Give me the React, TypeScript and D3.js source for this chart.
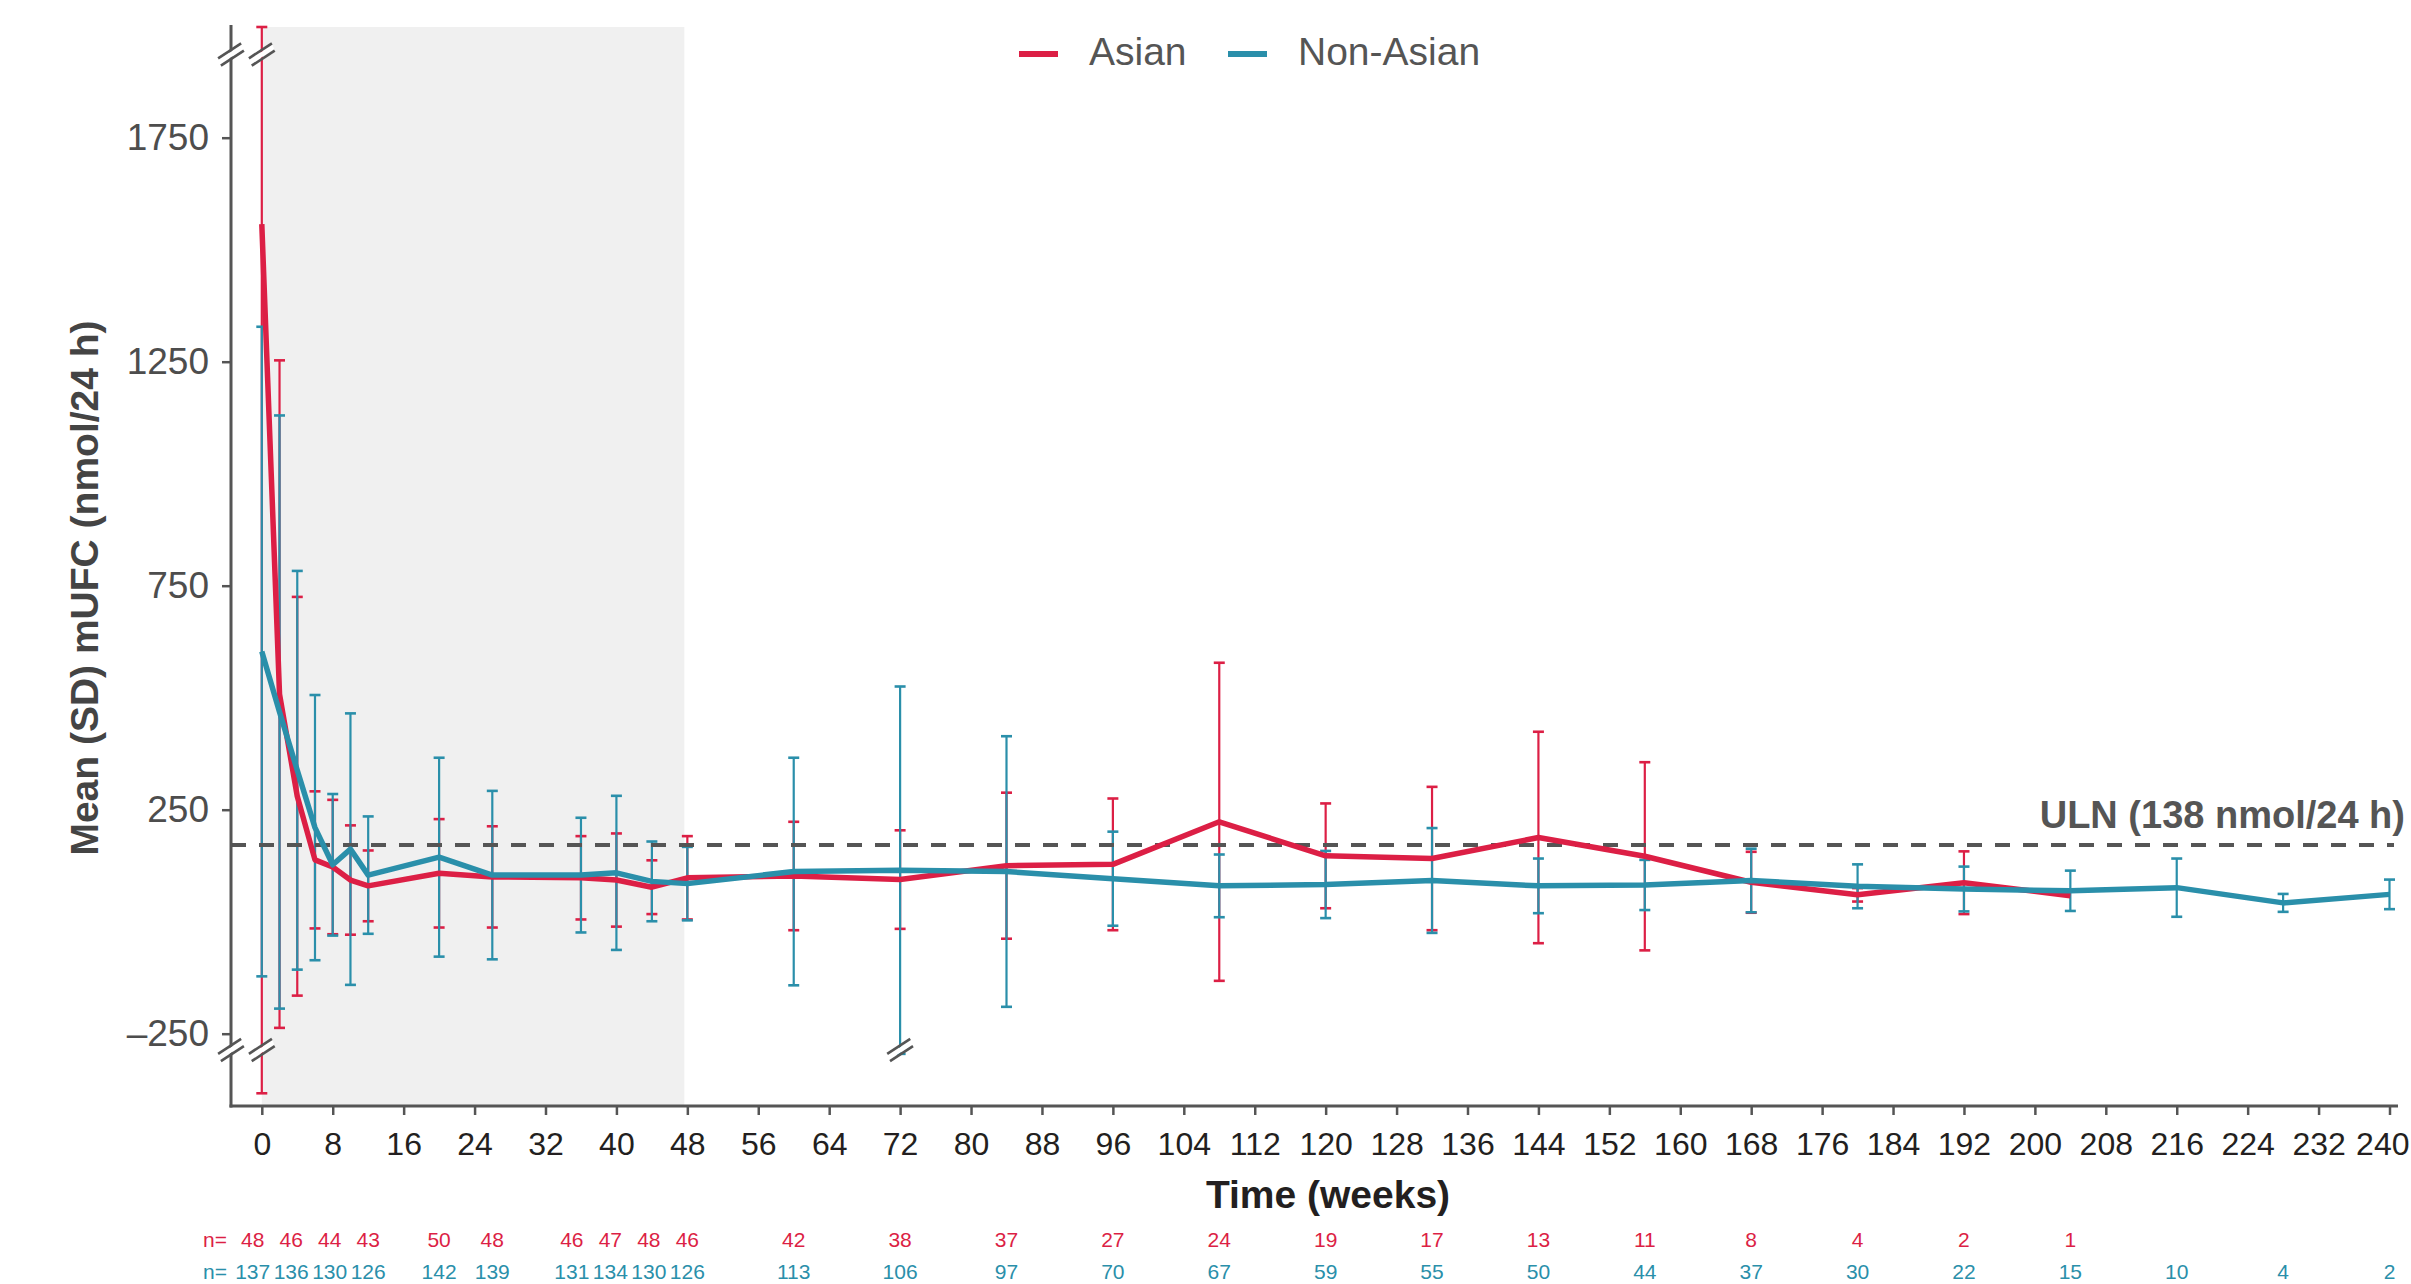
import React, { useRef, useEffect } from 'react';
import * as d3 from 'd3';

// visit weeks (x) for the mean (SD) points
const weeks = [0, 2, 4, 6, 8, 10, 12, 20, 26, 36, 40, 44, 48, 60, 72, 84, 96, 108, 120, 132, 144, 156, 168, 180, 192, 204, 216, 228, 240];

// Asian: mean and SD of mUFC (nmol/24 h), up to week 204 (n=1 there, no SD)
const asianMean = [1557, 508, 280, 138, 122, 93, 80, 108, 100, 98, 93, 77, 98, 102, 94, 125, 128, 223, 147, 141, 188, 146, 88, 60, 87, 58];
const asianSD = [1940, 745, 445, 153, 150, 122, 79, 121, 113, 93, 104, 60, 93, 121, 110, 163, 147, 355, 117, 160, 236, 210, 68, 15, 70, null];

// Non-Asian: mean and SD, up to week 240
const nonAsianMean = [603, 468, 338, 210, 127, 162, 104, 144, 104, 104, 109, 90, 85, 112, 115, 112, 96, 80, 83, 92, 80, 82, 92, 79, 73, 69, 76, 42, 61];
const nonAsianSD = [725, 662, 445, 296, 158, 303, 131, 222, 188, 128, 172, 89, 82, 254, 410, 302, 105, 70, 75, 117, 61, 56, 71, 49, 50, 45, 65, 20, 33];

// number of patients under the axis
const nWeeks = [0, 4, 8, 12, 20, 26, 36, 40, 44, 48, 60, 72, 84, 96, 108, 120, 132, 144, 156, 168, 180, 192, 204, 216, 228, 240];
const asianN = [48, 46, 44, 43, 50, 48, 46, 47, 48, 46, 42, 38, 37, 27, 24, 19, 17, 13, 11, 8, 4, 2, 1];
const nonAsianN = [137, 136, 130, 126, 142, 139, 131, 134, 130, 126, 113, 106, 97, 70, 67, 59, 55, 50, 44, 37, 30, 22, 15, 10, 4, 2];

const yTicks = [-250, 250, 750, 1250, 1750];
const xTicks = d3.range(0, 241, 8);

const ulnLabel = 'ULN (138 nmol/24 h)';
const ulnDrawn = 171; // where the source figure draws the dashed line
const shadedWeeks = [0, 48];

const RED = '#dc1f45';
const BLUE = '#2a8faa';
const FONT = '"Liberation Sans", Arial, Helvetica, sans-serif';

const App = () => {
  const ref = useRef<SVGSVGElement>(null);

  useEffect(() => {
    const svg = d3.select(ref.current);
    svg.selectAll('*').remove();

    const x = d3.scaleLinear().domain([0, 240]).range([261.8, 2389.5]);
    const y = d3.scaleLinear().domain([-250, 1750]).range([1033.7, 137.7]);

    const axisX = 231;
    const axisTop = 25;
    const axisBottom = 1106;
    const axisRight = 2398;
    const plotTop = 27;
    const topVisible = y.invert(plotTop);
    const bottomVisible = y.invert(axisBottom);
    const lowerBreak = y.invert(1050);
    const upperBreak = y.invert(54.5);

    // shaded core period
    svg.append('rect')
      .attr('x', x(shadedWeeks[0]))
      .attr('y', plotTop)
      .attr('width', x(shadedWeeks[1]) - x(shadedWeeks[0]) - 3)
      .attr('height', axisBottom - plotTop)
      .attr('fill', '#f0f0f0');

    const series = [
      { name: 'Asian', color: RED, mean: asianMean, sd: asianSD, n: asianN },
      { name: 'Non-Asian', color: BLUE, mean: nonAsianMean, sd: nonAsianSD, n: nonAsianN },
    ];

    const breaks: [number, number][] = [];

    // error bars
    series.forEach(s => {
      const g = svg.append('g');
      s.mean.forEach((m, i) => {
        const sd = s.sd[i];
        if (sd == null) return;
        const cx = x(weeks[i]);
        const hi = Math.min(m + sd, topVisible);
        const lo = Math.max(m - sd, bottomVisible);
        g.append('line')
          .attr('x1', cx).attr('x2', cx)
          .attr('y1', y(lo)).attr('y2', y(hi))
          .attr('stroke', s.color).attr('stroke-width', 2.2);
        [lo, hi].forEach(v => {
          g.append('line')
            .attr('x1', cx - 5.5).attr('x2', cx + 5.5)
            .attr('y1', y(v)).attr('y2', y(v))
            .attr('stroke', s.color).attr('stroke-width', 2.6);
        });
        if (m - sd < lowerBreak) breaks.push([cx, y(lowerBreak)]);
        if (m + sd > upperBreak) breaks.push([cx, y(upperBreak)]);
      });
    });

    // ULN reference line
    svg.append('line')
      .attr('x1', axisX).attr('x2', axisRight - 4)
      .attr('y1', y(ulnDrawn)).attr('y2', y(ulnDrawn))
      .attr('stroke', '#555').attr('stroke-width', 4)
      .attr('stroke-dasharray', '15 13');

    svg.append('text')
      .attr('x', 2405).attr('y', 828)
      .attr('text-anchor', 'end')
      .attr('font-family', FONT).attr('font-weight', 'bold')
      .attr('font-size', 38).attr('fill', '#555')
      .text(ulnLabel);

    // mean lines
    series.forEach(s => {
      const line = d3.line<number>()
        .x((d, i) => x(weeks[i]))
        .y(d => y(d));
      svg.append('path')
        .datum(s.mean)
        .attr('d', line)
        .attr('fill', 'none')
        .attr('stroke', s.color)
        .attr('stroke-width', 5.5)
        .attr('stroke-linejoin', 'round');
    });

    // axes
    const yAxis = svg.append('g')
      .attr('transform', `translate(${axisX},0)`)
      .call(d3.axisLeft(y).tickValues(yTicks).tickSize(9).tickPadding(13)
        .tickFormat(d => (+d < 0 ? '\u2013' + Math.abs(+d) : String(d))));
    yAxis.select('.domain').remove();
    yAxis.selectAll('line').attr('stroke', '#555').attr('stroke-width', 2.5);
    yAxis.selectAll('text').attr('font-family', FONT).attr('font-size', 37).attr('fill', '#4d4d4d');

    const xAxis = svg.append('g')
      .attr('transform', `translate(0,${axisBottom})`)
      .call(d3.axisBottom(x).tickValues(xTicks).tickSize(9).tickPadding(17));
    xAxis.select('.domain').remove();
    xAxis.selectAll('line').attr('stroke', '#555').attr('stroke-width', 2.5);
    xAxis.selectAll('text').attr('font-family', FONT).attr('font-size', 32).attr('fill', '#231f20');
    // keep the last label inside the page
    xAxis.selectAll<SVGTextElement, number>('text')
      .filter(d => d === xTicks[xTicks.length - 1])
      .attr('text-anchor', 'end')
      .attr('x', 2409 - x(xTicks[xTicks.length - 1]));

    svg.append('line')
      .attr('x1', axisX).attr('x2', axisX)
      .attr('y1', axisTop).attr('y2', axisBottom + 1.5)
      .attr('stroke', '#555').attr('stroke-width', 3);
    svg.append('line')
      .attr('x1', axisX - 1.5).attr('x2', axisRight)
      .attr('y1', axisBottom).attr('y2', axisBottom)
      .attr('stroke', '#555').attr('stroke-width', 3);

    // axis breaks and broken error bars
    breaks.push([axisX, y(upperBreak)], [axisX, y(lowerBreak)]);
    const bg = svg.append('g');
    breaks.forEach(([cx, cy]) => {
      const dx = 11.5, dy = -7.5, ox = 1.4, oy = 3.7;
      const pts = [
        [cx - dx - ox * 0.6, cy - dy - oy * 0.6],
        [cx + dx - ox * 0.6, cy + dy - oy * 0.6],
        [cx + dx + ox * 0.6, cy + dy + oy * 0.6],
        [cx - dx + ox * 0.6, cy - dy + oy * 0.6],
      ];
      bg.append('polygon')
        .attr('points', pts.map(p => p.join(',')).join(' '))
        .attr('fill', 'white');
      [-1, 1].forEach(k => {
        bg.append('line')
          .attr('x1', cx - dx + k * ox).attr('y1', cy - dy + k * oy)
          .attr('x2', cx + dx + k * ox).attr('y2', cy + dy + k * oy)
          .attr('stroke', '#555').attr('stroke-width', 2.6);
      });
    });

    // axis titles
    svg.append('text')
      .attr('transform', 'translate(84,588) rotate(-90)')
      .attr('text-anchor', 'middle')
      .attr('dominant-baseline', 'central')
      .attr('font-family', FONT).attr('font-weight', 'bold')
      .attr('font-size', 39).attr('fill', '#444')
      .text('Mean (SD) mUFC (nmol/24 h)');

    svg.append('text')
      .attr('x', 1328).attr('y', 1208)
      .attr('text-anchor', 'middle')
      .attr('font-family', FONT).attr('font-weight', 'bold')
      .attr('font-size', 39).attr('fill', '#231f20')
      .text('Time (weeks)');

    // legend
    const legend = svg.append('g');
    const legendX = [1019, 1228];
    series.forEach((s, i) => {
      legend.append('line')
        .attr('x1', legendX[i]).attr('x2', legendX[i] + 39)
        .attr('y1', 54).attr('y2', 54)
        .attr('stroke', s.color).attr('stroke-width', 6);
      legend.append('text')
        .attr('x', legendX[i] + 70).attr('y', 65)
        .attr('font-family', FONT).attr('font-size', 39).attr('fill', '#555')
        .text(s.name);
    });

    // n at risk rows: spread crowded labels leftwards so they do not overlap
    const gap = 38.5;
    const rowY = [1247, 1279];
    series.forEach((s, r) => {
      const pos = s.n.map((d, i) => x(nWeeks[i]));
      for (let i = pos.length - 2; i >= 0; i--) {
        pos[i] = Math.min(pos[i], pos[i + 1] - gap);
      }
      const g = svg.append('g')
        .attr('font-family', FONT).attr('font-size', 21).attr('fill', s.color);
      g.append('text').attr('x', 227).attr('y', rowY[r]).attr('text-anchor', 'end').text('n=');
      s.n.forEach((d, i) => {
        g.append('text')
          .attr('x', pos[i]).attr('y', rowY[r])
          .attr('text-anchor', 'middle')
          .text(d);
      });
    });
  }, []);

  return (
    <div style={{ position: 'absolute', left: 0, top: 0, width: 2411, height: 1284, background: '#fff' }}>
      <svg ref={ref} width={2411} height={1284} style={{ display: 'block' }} />
    </div>
  );
};

export default App;
